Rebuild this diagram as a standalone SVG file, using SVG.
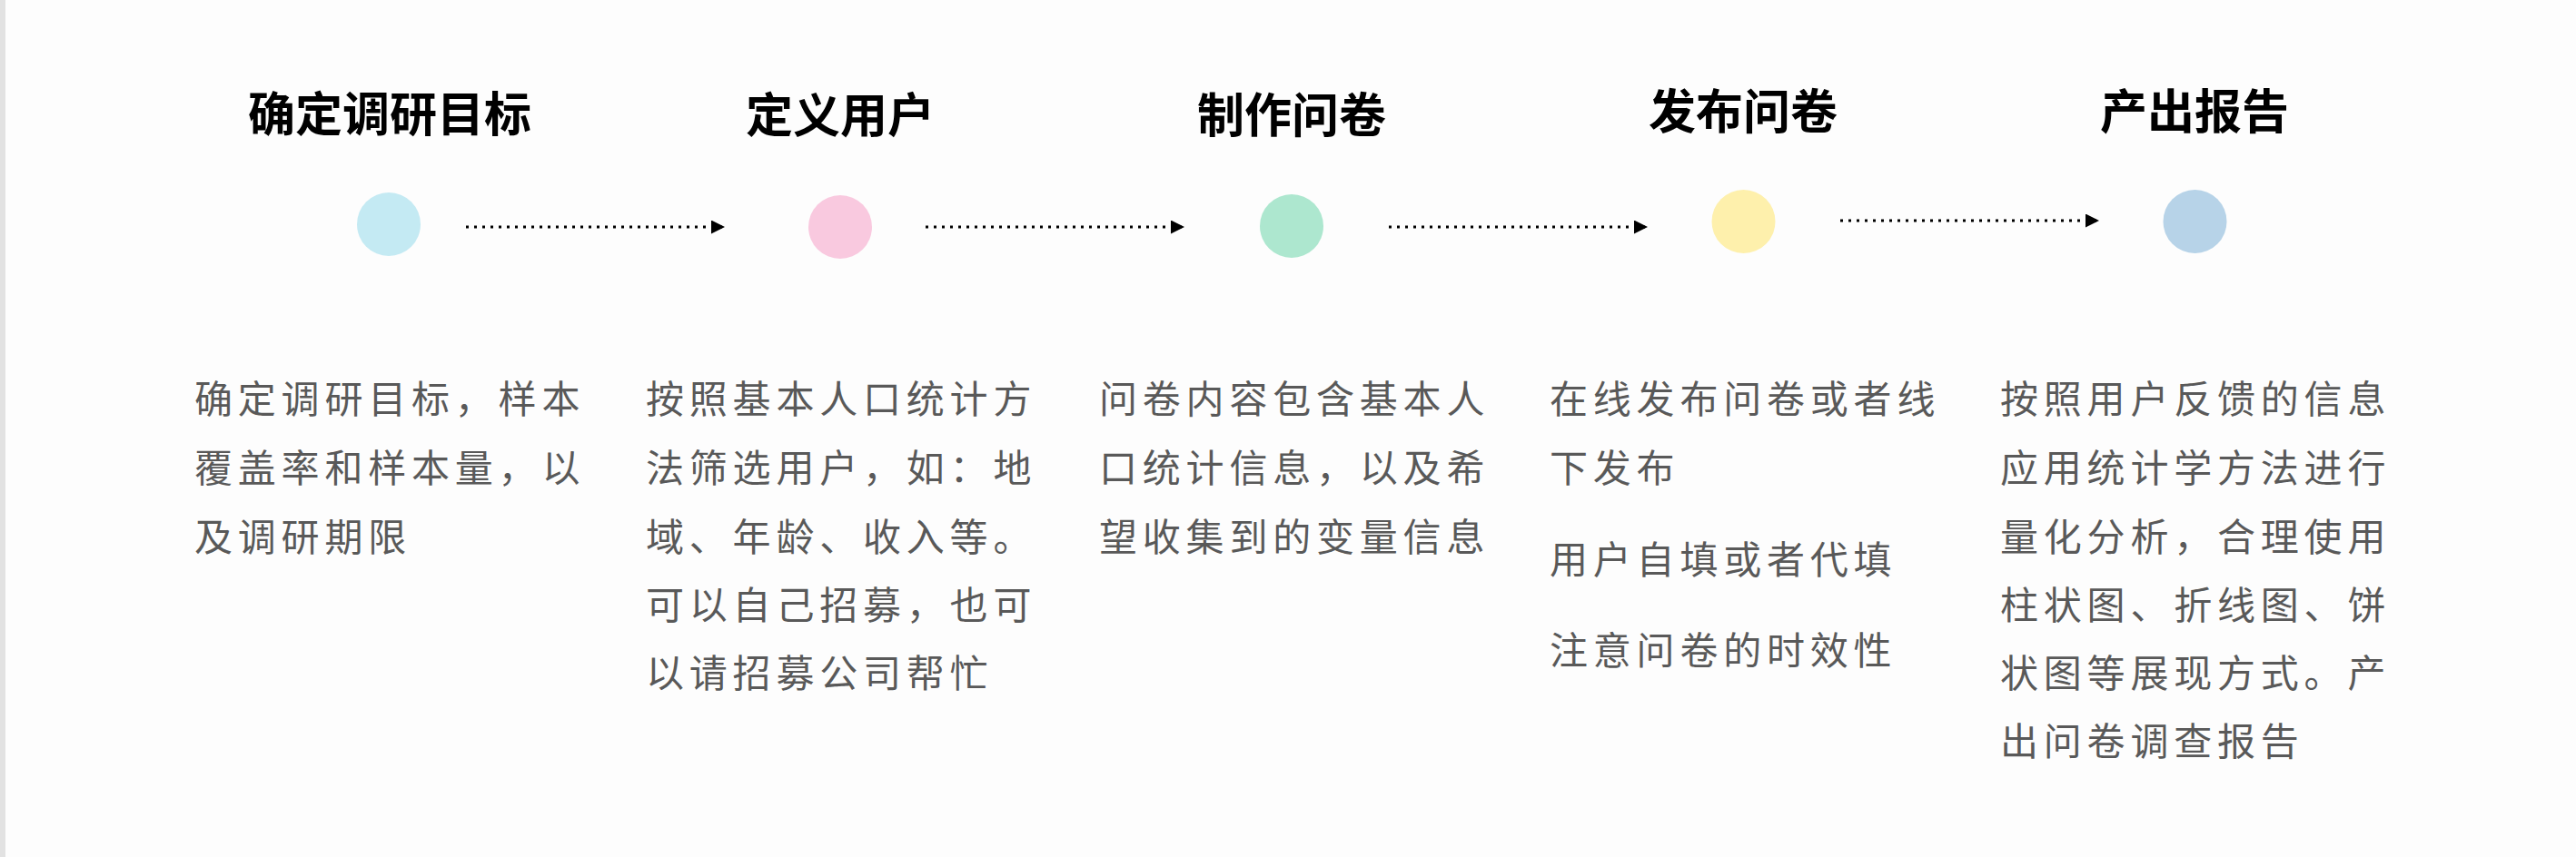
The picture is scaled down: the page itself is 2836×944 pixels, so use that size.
<svg xmlns="http://www.w3.org/2000/svg" width="2836" height="944" viewBox="0 0 2836 944">
<style>
.title{font-family:"Noto Sans CJK SC","Noto Sans",sans-serif;font-weight:700;font-size:52px;fill:#000;text-anchor:middle}
.body{font-family:"Noto Sans CJK SC","Noto Sans",sans-serif;font-weight:400;font-size:42px;fill:#595959;letter-spacing:5.8px}
.conn{stroke:#000;stroke-width:3;stroke-dasharray:3 6;fill:none}
</style>
<defs>
<marker id="ah" markerWidth="15" markerHeight="15" refX="15" refY="7.5" orient="auto" markerUnits="userSpaceOnUse">
<path d="M0,0 L15,7.5 L0,15 Z" fill="#000"/>
</marker>
</defs>
<rect x="0" y="0" width="2836" height="944" fill="#fdfdfd"/>
<rect x="0" y="0" width="6" height="944" fill="#e2e2e2"/>
<g id="connectors">
<line class="conn" x1="513" y1="250" x2="798" y2="250" marker-end="url(#ah)"/>
<line class="conn" x1="1019" y1="250" x2="1304" y2="250" marker-end="url(#ah)"/>
<line class="conn" x1="1529" y1="250" x2="1814" y2="250" marker-end="url(#ah)"/>
<line class="conn" x1="2026" y1="243" x2="2311" y2="243" marker-end="url(#ah)"/>
</g>
<g id="step1">
<text class="title" x="429" y="145">确定调研目标</text>
<circle cx="428" cy="247" r="35" fill="#c4eaf3"/>
<text class="body" x="214" y="455">确定调研目标，样本</text>
<text class="body" x="214" y="531">覆盖率和样本量，以</text>
<text class="body" x="214" y="607">及调研期限</text>
</g>
<g id="step2">
<text class="title" x="925" y="146">定义用户</text>
<circle cx="925" cy="250" r="35" fill="#f9c9df"/>
<text class="body" x="711" y="455">按照基本人口统计方</text>
<text class="body" x="711" y="531">法筛选用户，如：地</text>
<text class="body" x="711" y="607">域、年龄、收入等。</text>
<text class="body" x="711" y="682">可以自己招募，也可</text>
<text class="body" x="711" y="757">以请招募公司帮忙</text>
</g>
<g id="step3">
<text class="title" x="1422" y="146">制作问卷</text>
<circle cx="1422" cy="249" r="35" fill="#ade7cf"/>
<text class="body" x="1210" y="455">问卷内容包含基本人</text>
<text class="body" x="1210" y="531">口统计信息，以及希</text>
<text class="body" x="1210" y="607">望收集到的变量信息</text>
</g>
<g id="step4">
<text class="title" x="1919" y="142">发布问卷</text>
<circle cx="1919.5" cy="244" r="35" fill="#fef0ac"/>
<text class="body" x="1706" y="455">在线发布问卷或者线</text>
<text class="body" x="1706" y="531">下发布</text>
<text class="body" x="1706" y="632">用户自填或者代填</text>
<text class="body" x="1706" y="732">注意问卷的时效性</text>
</g>
<g id="step5">
<text class="title" x="2416" y="142">产出报告</text>
<circle cx="2416.5" cy="244" r="35" fill="#b7d3e8"/>
<text class="body" x="2202" y="455">按照用户反馈的信息</text>
<text class="body" x="2202" y="531">应用统计学方法进行</text>
<text class="body" x="2202" y="607">量化分析，合理使用</text>
<text class="body" x="2202" y="682">柱状图、折线图、饼</text>
<text class="body" x="2202" y="757">状图等展现方式。产</text>
<text class="body" x="2202" y="832">出问卷调查报告</text>
</g>
</svg>
